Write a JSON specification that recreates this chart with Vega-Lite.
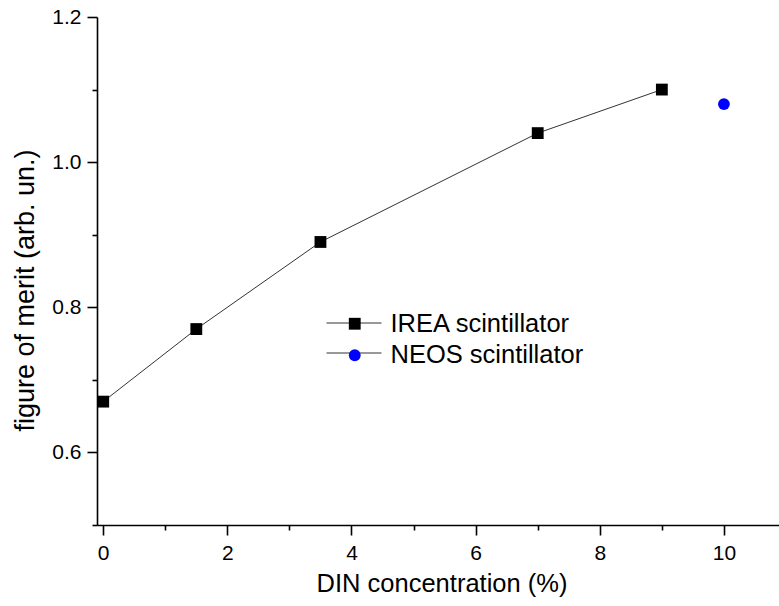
{
  "$schema": "https://vega.github.io/schema/vega-lite/v6.json",
  "width": 689,
  "height": 508,
  "autosize": {"type": "none"},
  "padding": {"left": 97, "top": 17, "right": 0, "bottom": 81},
  "background": "white",
  "config": {
    "view": {"stroke": null},
    "font": "Liberation Sans",
    "axis": {
      "grid": false,
      "domainColor": "black",
      "domainWidth": 1.6,
      "tickColor": "black",
      "tickWidth": 1.6,
      "labelFont": "Liberation Sans",
      "labelFontSize": 21,
      "labelColor": "black",
      "titleFont": "Liberation Sans",
      "titleFontSize": 25.5,
      "titleFontWeight": "normal",
      "titleColor": "black"
    }
  },
  "data": {
    "values": [
      {"conc": 0, "fom": 0.67, "series": "IREA scintillator", "curve": "IREA line"},
      {"conc": 1.5, "fom": 0.77, "series": "IREA scintillator", "curve": "IREA line"},
      {"conc": 3.5, "fom": 0.89, "series": "IREA scintillator", "curve": "IREA line"},
      {"conc": 7, "fom": 1.04, "series": "IREA scintillator", "curve": "IREA line"},
      {"conc": 9, "fom": 1.10, "series": "IREA scintillator", "curve": "IREA line"},
      {"conc": 10, "fom": 1.08, "series": "NEOS scintillator", "curve": "NEOS line"}
    ]
  },
  "layer": [
    {
      "mark": {"type": "line", "strokeWidth": 1},
      "encoding": {
        "x": {
          "field": "conc", "type": "quantitative",
          "scale": {"domain": [-0.1, 11], "nice": false, "zero": false},
          "axis": {"values": [0, 2, 4, 6, 8, 10], "format": "d", "tickSize": 10, "labelPadding": 7, "title": "DIN concentration (%)", "titlePadding": 8, "orient": "bottom"}
        },
        "y": {
          "field": "fom", "type": "quantitative",
          "scale": {"domain": [0.5, 1.2], "nice": false, "zero": false},
          "axis": {"values": [0.6, 0.8, 1.0, 1.2], "format": ".1f", "tickSize": 10, "labelPadding": 6, "title": "figure of merit (arb. un.)", "titleFontSize": 27, "titleX": -58, "titleY": 273, "orient": "left"}
        },
        "stroke": {
          "field": "curve", "type": "nominal",
          "scale": {"domain": ["IREA line", "NEOS line"], "range": ["#333333", "#333333"]},
          "legend": {
            "orient": "none", "legendX": 245, "legendY": 294, "title": null,
            "symbolType": "M-5,0H5", "symbolSize": 121, "symbolStrokeWidth": 1,
            "symbolStrokeColor": "#333333",
            "labelFontSize": 24, "labelFont": "Liberation Sans", "labelColor": "transparent",
            "labelExpr": "''",
            "labelOffset": 23, "rowPadding": 6, "padding": 0
          }
        }
      }
    },
    {
      "mark": {"type": "point", "filled": true, "opacity": 1, "size": 140, "strokeWidth": 0},
      "encoding": {
        "x": {
          "field": "conc", "type": "quantitative",
          "axis": {"values": [1, 3, 5, 7, 9, 11], "labels": false, "domain": false, "tickSize": 5, "title": null, "orient": "bottom"}
        },
        "y": {
          "field": "fom", "type": "quantitative",
          "axis": {"values": [0.5, 0.7, 0.9, 1.1], "labels": false, "domain": false, "tickSize": 5, "title": null, "orient": "left"}
        },
        "shape": {
          "field": "series", "type": "nominal",
          "scale": {"domain": ["IREA scintillator", "NEOS scintillator"], "range": ["square", "circle"]},
          "legend": {
            "orient": "none", "legendX": 245, "legendY": 294, "title": null,
            "symbolSize": 140, "symbolStrokeWidth": 0,
            "labelFontSize": 25.5, "labelFont": "Liberation Sans", "labelColor": "black",
            "labelLimit": 0,
            "labelOffset": 23, "rowPadding": 4.5, "padding": 0
          }
        },
        "fill": {
          "field": "series", "type": "nominal",
          "scale": {"domain": ["IREA scintillator", "NEOS scintillator"], "range": ["black", "#0000ff"]},
          "legend": {
            "orient": "none", "legendX": 245, "legendY": 294, "title": null,
            "symbolSize": 140, "symbolStrokeWidth": 0,
            "labelFontSize": 25.5, "labelFont": "Liberation Sans", "labelColor": "black",
            "labelLimit": 0,
            "labelOffset": 23, "rowPadding": 4.5, "padding": 0
          }
        }
      }
    }
  ],
  "resolve": {"axis": {"x": "independent", "y": "independent"}}
}
